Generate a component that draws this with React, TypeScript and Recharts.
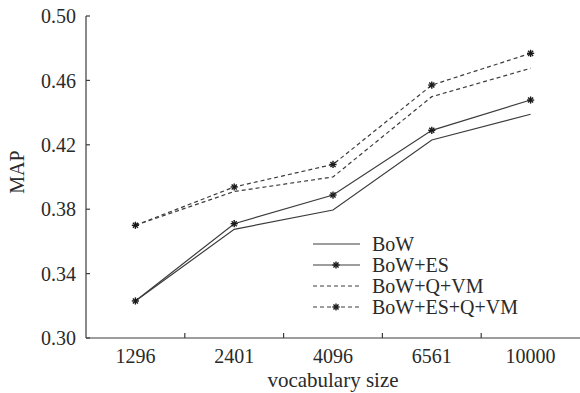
// MAP vs vocabulary size — line chart with asterisk markers

import React from 'react';
import { LineChart, Line, XAxis, YAxis } from 'recharts';

// ---------------------------------------------------------------------------
// Data
// ---------------------------------------------------------------------------

const categories = ['1296', '2401', '4096', '6561', '10000'];
const bow = [0.323, 0.3675, 0.3795, 0.423, 0.439];
const bowEs = [0.323, 0.371, 0.3888, 0.429, 0.4478];
const bowQvm = [0.37, 0.391, 0.4, 0.4499, 0.4675];
const bowEsQvm = [0.37, 0.3938, 0.4078, 0.4571, 0.4768];
const yTicks = [0.3, 0.34, 0.38, 0.42, 0.46, 0.5];

const seriesNames = ['BoW', 'BoW+ES', 'BoW+Q+VM', 'BoW+ES+Q+VM'];

// numeric x: category i sits at i + 0.5, band edges at integers
const data = categories.map((c, i) => ({
  x: i + 0.5,
  bow: bow[i],
  bowEs: bowEs[i],
  bowQvm: bowQvm[i],
  bowEsQvm: bowEsQvm[i],
}));

const xTicks = [0.5, 1, 1.5, 2, 2.5, 3, 3.5, 4, 4.5];

// ---------------------------------------------------------------------------
// Styles
// ---------------------------------------------------------------------------

const FONT = '"Liberation Serif", "Times New Roman", serif';
const INK = '#2a2a2a';
const LINE = '#3c3c3c';
const DASH = '4 3';

// ---------------------------------------------------------------------------
// Asterisk marker
// ---------------------------------------------------------------------------

const Asterisk: React.FC<{ cx?: number; cy?: number }> = ({ cx, cy }) => {
  if (cx == null || cy == null) return null;
  const r = 3.6;
  const d = r * 0.7071;
  return (
    <g stroke="#1a1a1a" strokeWidth={1.4}>
      <line x1={cx - r} y1={cy} x2={cx + r} y2={cy} />
      <line x1={cx} y1={cy - r} x2={cx} y2={cy + r} />
      <line x1={cx - d} y1={cy - d} x2={cx + d} y2={cy + d} />
      <line x1={cx - d} y1={cy + d} x2={cx + d} y2={cy - d} />
    </g>
  );
};

// ---------------------------------------------------------------------------
// X tick: labels at band centres, small inward ticks at band edges
// ---------------------------------------------------------------------------

const XTick: React.FC<any> = ({ x, y, payload }) => {
  const v = payload.value as number;
  if (Number.isInteger(v)) {
    return <line x1={x} y1={y} x2={x} y2={y - 5} stroke={LINE} strokeWidth={1.2} />;
  }
  return (
    <text x={x} y={y + 25} textAnchor="middle" fontFamily={FONT} fontSize={20} fill={INK}>
      {categories[Math.floor(v)]}
    </text>
  );
};

// Rotated y title, centred on the plot height
const YTitle: React.FC<any> = ({ viewBox }) => {
  const cy = viewBox.y + viewBox.height / 2 - 5;
  const cx = 24;
  return (
    <text
      x={cx}
      y={cy}
      transform={`rotate(-90 ${cx} ${cy})`}
      textAnchor="middle"
      fontFamily={FONT}
      fontSize={20}
      fill={INK}
    >
      MAP
    </text>
  );
};

// ---------------------------------------------------------------------------
// Legend (overlaid inside the plot)
// ---------------------------------------------------------------------------

const legendRows = [
  { name: seriesNames[0], dash: undefined, marker: false },
  { name: seriesNames[1], dash: undefined, marker: true },
  { name: seriesNames[2], dash: DASH, marker: false },
  { name: seriesNames[3], dash: DASH, marker: true },
];

const LegendBox: React.FC = () => (
  <svg width={250} height={100} style={{ position: 'absolute', left: 310, top: 225 }}>
    {legendRows.map((r, i) => {
      const cy = 19 + i * 21;
      return (
        <g key={r.name}>
          <line x1={3} y1={cy} x2={50} y2={cy} stroke={LINE} strokeWidth={1.2} strokeDasharray={r.dash} />
          {r.marker && <Asterisk cx={26} cy={cy} />}
          <text x={62} y={cy + 6.5} fontFamily={FONT} fontSize={20} fill={INK}>
            {r.name}
          </text>
        </g>
      );
    })}
  </svg>
);

// ---------------------------------------------------------------------------
// Component
// ---------------------------------------------------------------------------

export default function App() {
  return (
    <div style={{ position: 'relative', width: 580, height: 393, background: '#fff' }}>
      <style>{'body{margin:0;background:#fff}'}</style>
      <LineChart width={580} height={393} data={data} margin={{ top: 16, right: 0, bottom: 0, left: 0 }}>
        <XAxis
          dataKey="x"
          type="number"
          domain={[0, 5]}
          ticks={xTicks}
          interval={0}
          height={55}
          tickSize={0}
          tickMargin={0}
          tickLine={false}
          axisLine={{ stroke: LINE, strokeWidth: 1.2 }}
          tick={<XTick />}
          label={{
            value: 'vocabulary size',
            position: 'insideBottom',
            offset: 6,
            fontFamily: FONT,
            fontSize: 21,
            fill: INK,
          }}
        />
        <YAxis
          domain={[0.3, 0.5]}
          ticks={yTicks}
          interval={0}
          width={86}
          tickSize={-4}
          tickMargin={14}
          tickFormatter={(v: number) => v.toFixed(2)}
          tick={{ fontFamily: FONT, fontSize: 20, fill: INK }}
          tickLine={{ stroke: LINE, strokeWidth: 1.2 }}
          axisLine={{ stroke: LINE, strokeWidth: 1.2 }}
          label={<YTitle />}
        />
        <Line dataKey="bow" name={seriesNames[0]} stroke={LINE} strokeWidth={1.2} dot={false} isAnimationActive={false} />
        <Line dataKey="bowEs" name={seriesNames[1]} stroke={LINE} strokeWidth={1.2} dot={<Asterisk />} isAnimationActive={false} />
        <Line dataKey="bowQvm" name={seriesNames[2]} stroke={LINE} strokeWidth={1.2} strokeDasharray={DASH} dot={false} isAnimationActive={false} />
        <Line dataKey="bowEsQvm" name={seriesNames[3]} stroke={LINE} strokeWidth={1.2} strokeDasharray={DASH} dot={<Asterisk />} isAnimationActive={false} />
      </LineChart>
      <LegendBox />
    </div>
  );
}
